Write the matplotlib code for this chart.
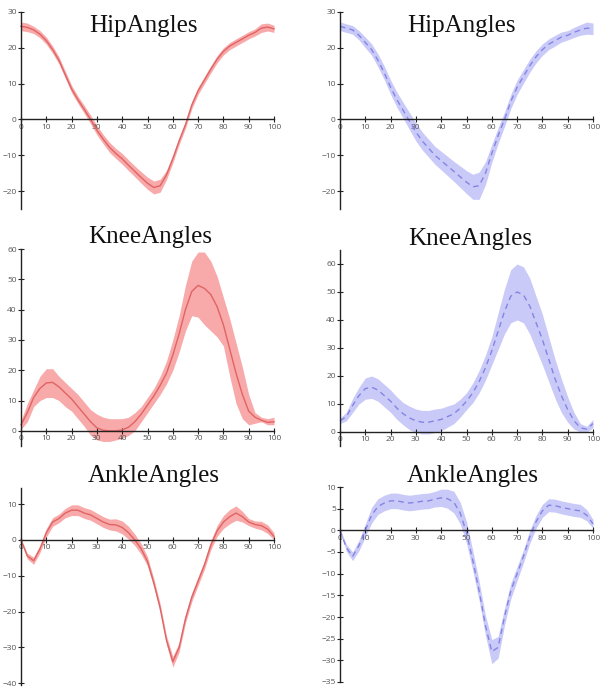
import matplotlib
matplotlib.use("Agg")
import matplotlib.pyplot as plt
import numpy as np

# ---------------- data ----------------
gait_pct = [0, 2.5, 5, 7.5, 10, 12.5, 15, 17.5, 20, 22.5, 25, 27.5, 30, 32.5, 35, 37.5,
            40, 42.5, 45, 47.5, 50, 52.5, 55, 57.5, 60, 62.5, 65, 67.5, 70, 72.5, 75,
            77.5, 80, 82.5, 85, 87.5, 90, 92.5, 95, 97.5, 100]

hip_red_mean = [26, 25.7, 25, 23.8, 22, 19.5, 16.5, 12.5, 8.5, 5.5, 2.8, 0, -3, -5.5, -7.8, -9.5,
                -11, -12.8, -14.5, -16.2, -17.8, -19, -18.5, -15.5, -11, -6, -1.5, 4, 8, 11, 14,
                16.8, 19, 20.5, 21.5, 22.5, 23.5, 24.3, 25.5, 25.8, 25.3]
hip_red_sd = [1.2, 1.2, 1.0, 1.0, 1.0, 1.0, 1.0, 1.0, 1.0, 1.0, 1.1, 1.2, 1.3, 1.3, 1.4, 1.4,
              1.5, 1.5, 1.5, 1.6, 1.7, 1.8, 1.8, 1.3, 1.1, 1.0, 1.0, 1.0, 1.0, 1.0, 1.0,
              1.0, 1.0, 1.0, 1.0, 1.0, 1.0, 1.0, 1.2, 1.1, 1.0]

hip_blue_mean = [26, 25.5, 25, 23.5, 21.5, 19.5, 16.5, 13, 9, 5.5, 2.5, -0.5, -3.5, -6, -8, -10,
                 -11.5, -13, -14.5, -16, -17.5, -18.8, -18.5, -15, -9.5, -4.5, 0, 5, 9, 12, 15,
                 17.5, 19.5, 21, 22, 23, 23.5, 24.3, 25, 25.5, 25.3]
hip_blue_sd = [1.2, 1.2, 1.2, 1.3, 1.5, 1.6, 1.8, 1.9, 2.0, 2.1, 2.2, 2.4, 2.5, 2.5, 2.5, 2.5,
               2.6, 2.7, 2.8, 3.0, 3.2, 3.5, 3.8, 3.2, 2.5, 2.2, 2.0, 2.0, 2.0, 1.9, 1.8,
               1.7, 1.6, 1.5, 1.5, 1.4, 1.3, 1.4, 1.5, 1.7, 1.6]

knee_red_mean = [2, 6, 11, 14, 15.8, 16, 14.5, 12.5, 10.5, 8, 5.5, 3, 1, 0.2, 0, 0,
                 0.3, 1.2, 3, 5.5, 8.5, 11.5, 15, 19, 25, 32, 40, 46, 48, 47, 45,
                 41, 35, 27, 19, 12, 6.5, 4.5, 3.5, 2.8, 3]
knee_red_lo = [0.5, 3, 8, 10, 11, 11, 10, 8, 6.5, 4, 1.5, -1.5, -3, -3.5, -3.5, -3,
               -2.5, -1.5, 0, 3, 6, 9, 12, 15.5, 20, 26, 33, 38, 37.5, 35, 33,
               31, 28, 18, 9, 4, 2, 2.5, 3, 2, 2]
knee_red_hi = [3.5, 9, 13.5, 18, 20.5, 20.5, 18, 16, 14, 12, 9.5, 7, 5.5, 4.5, 4, 4,
               4, 4.5, 6, 8, 11, 14, 18, 23, 30, 38, 48, 56, 59, 59, 56,
               51, 44, 37, 29, 21, 12, 6, 4.5, 4, 4.5]

knee_blue_mean = [4, 5.5, 9.5, 13, 15.5, 16, 15, 13, 11, 8.5, 6.5, 5, 4, 3.5, 3.5, 4,
                  4.5, 5.5, 6.5, 8.5, 11, 14, 18, 23, 29, 36, 43, 48.5, 50, 49, 45,
                  39, 33, 26, 19, 13, 8, 4, 1.5, 1, 3]
knee_blue_sd = [1, 1.5, 2.5, 3, 3.8, 4, 4, 4, 4, 4, 4, 4.2, 4.2, 4.2, 4.2, 4.2,
                4, 3.8, 3.5, 3.2, 3, 3.5, 4, 4.5, 5, 6.5, 8, 9.5, 10, 10, 10,
                9.5, 9, 8, 7, 6, 4.5, 3, 1.5, 1, 1.5]

ankle_red_mean = [0, -4.5, -5.8, -2.5, 2, 5, 6, 7.5, 8.3, 8.3, 7.5, 7, 6, 5, 4.3, 4.2,
                  3.5, 2, 0, -2.5, -6, -12, -19, -28, -34, -30, -22, -16, -11.5, -7, -1.5,
                  2.5, 5, 6.5, 7.5, 6.5, 5, 4.3, 4, 3, 1]
ankle_red_sd = [0.3, 0.8, 1, 1, 1.2, 1.2, 1.2, 1.3, 1.5, 1.5, 1.5, 1.5, 1.5, 1.5, 1.5, 1.7,
                1.8, 1.8, 1.6, 1.5, 1.3, 1.2, 1.2, 1.2, 1.5, 1.3, 1.2, 1.2, 1.2, 1.2, 1.3,
                1.5, 1.8, 2, 2, 1.5, 1, 1, 1.2, 1.2, 1]

ankle_blue_mean = [0, -4, -6, -3.5, 0, 3.5, 5.5, 6.3, 6.8, 6.8, 6.5, 6.3, 6.5, 6.7, 6.8, 7.2,
                   7.5, 7.3, 6.5, 4, -0.5, -7, -14, -22, -28, -27, -20, -14, -10, -6, -1.5,
                   2, 4.5, 5.8, 5.7, 5.3, 5, 4.7, 4.5, 3.5, 1.5]
ankle_blue_sd = [0.3, 0.8, 1, 1.2, 1.5, 1.8, 1.8, 1.8, 1.8, 1.8, 1.8, 1.8, 1.8, 1.8, 1.8, 1.8,
                 2, 2.2, 2.5, 2.5, 2.5, 2.3, 2.2, 2.3, 2.8, 2.5, 2, 1.8, 1.6, 1.5, 1.5,
                 1.5, 1.5, 1.5, 1.5, 1.5, 1.5, 1.5, 1.5, 1.3, 1]

titles = ["HipAngles", "HipAngles", "KneeAngles", "KneeAngles", "AnkleAngles", "AnkleAngles"]
x_ticks = [0, 10, 20, 30, 40, 50, 60, 70, 80, 90, 100]
hip_yticks = [-20, -10, 0, 10, 20, 30]
knee_yticks = [0, 10, 20, 30, 40, 50, 60]
ankle_red_yticks = [-40, -30, -20, -10, 0, 10]
ankle_blue_yticks = [10, 5, 0, -5, -10, -15, -20, -25, -30, -35]

# ---------------- figure ----------------
W, H = 600, 689
fig = plt.figure(figsize=(W / 100, H / 100), dpi=100)

RED_FILL, RED_LINE = "#f8a9a9", "#e06464"
BLUE_FILL, BLUE_LINE = "#cacaf9", "#8484e4"


def add_axes_px(x0, x1, ytop, ybot):
    return fig.add_axes([x0 / W, 1 - ybot / H, (x1 - x0) / W, (ybot - ytop) / H])


def style(ax, ylim, yticks):
    ax.set_xlim(0, 100)
    ax.set_ylim(*ylim)
    ax.patch.set_alpha(0)
    for s in ["top", "right"]:
        ax.spines[s].set_visible(False)
    ax.spines["bottom"].set_position(("data", 0))
    ax.spines["left"].set_position(("data", 0))
    for s in ["bottom", "left"]:
        ax.spines[s].set_linewidth(1.0)
        ax.spines[s].set_color("#222222")
    ax.set_xticks(x_ticks)
    ax.set_yticks(yticks)
    ax.tick_params(direction="inout", length=4, width=0.8, color="#222222",
                   labelsize=6, labelcolor="#555555", pad=1)
    for lab in ax.get_xticklabels() + ax.get_yticklabels():
        lab.set_fontfamily("Open Sans")


def title(text, cx, baseline):
    fig.text(cx / W, 1 - baseline / H, text, ha="center", va="baseline",
             fontsize=18, family="Liberation Serif", color="#111111")


x = np.array(gait_pct)

# Hip red
ax = add_axes_px(21, 274, 12, 209)
m, s = np.array(hip_red_mean), np.array(hip_red_sd)
ax.fill_between(x, m - s, m + s, color=RED_FILL, lw=0, clip_on=False)
ax.plot(x, m, color=RED_LINE, lw=1.0, clip_on=False)
style(ax, (-25, 30), hip_yticks)
title(titles[0], 143, 32)

# Hip blue
ax = add_axes_px(340, 593, 12, 209)
m, s = np.array(hip_blue_mean), np.array(hip_blue_sd)
ax.fill_between(x, m - s, m + s, color=BLUE_FILL, lw=0, clip_on=False)
ax.plot(x, m, color=BLUE_LINE, lw=1.0, ls=(0, (4, 3)), clip_on=False)
style(ax, (-25, 30), hip_yticks)
title(titles[1], 461, 32)

# Knee red
ax = add_axes_px(21, 274, 249, 446)
ax.fill_between(x, knee_red_lo, knee_red_hi, color=RED_FILL, lw=0, clip_on=False)
ax.plot(x, knee_red_mean, color=RED_LINE, lw=1.0, clip_on=False)
style(ax, (-5, 60), knee_yticks)
title(titles[2], 150, 243)

# Knee blue
ax = add_axes_px(340, 593, 250, 446)
m, s = np.array(knee_blue_mean), np.array(knee_blue_sd)
ax.fill_between(x, m - s, m + s, color=BLUE_FILL, lw=0, clip_on=False)
ax.plot(x, m, color=BLUE_LINE, lw=1.0, ls=(0, (4, 3)), clip_on=False)
style(ax, (-5, 65), knee_yticks)
title(titles[3], 470, 245)

# Ankle red
ax = add_axes_px(21, 274, 488, 685)
m, s = np.array(ankle_red_mean), np.array(ankle_red_sd)
ax.fill_between(x, m - s, m + s, color=RED_FILL, lw=0, clip_on=False)
ax.plot(x, m, color=RED_LINE, lw=1.0, clip_on=False)
style(ax, (-40.5, 14.5), ankle_red_yticks)
title(titles[4], 154, 482)

# Ankle blue
ax = add_axes_px(340, 593, 487, 682)
m, s = np.array(ankle_blue_mean), np.array(ankle_blue_sd)
ax.fill_between(x, m - s, m + s, color=BLUE_FILL, lw=0, clip_on=False)
ax.plot(x, m, color=BLUE_LINE, lw=1.0, ls=(0, (4, 3)), clip_on=False)
style(ax, (-35, 10), ankle_blue_yticks)
title(titles[5], 473, 482)

fig.savefig("out.png", dpi=100)
